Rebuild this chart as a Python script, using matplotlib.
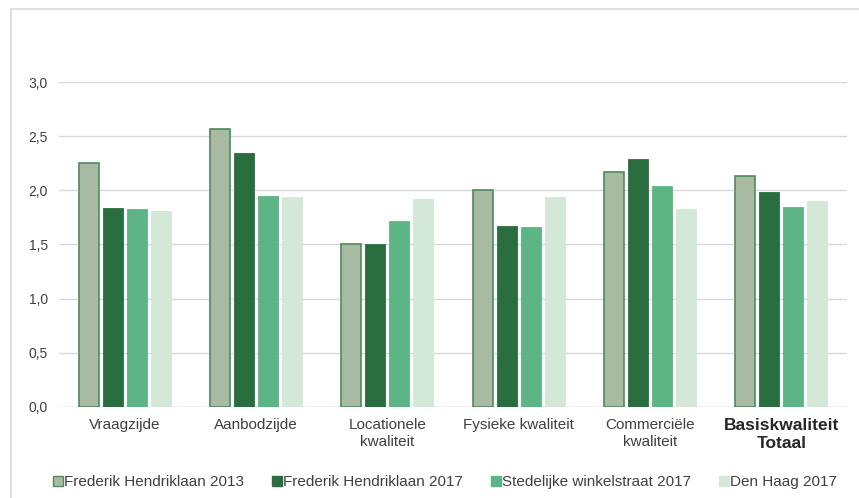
import matplotlib
matplotlib.use("Agg")
import matplotlib.pyplot as plt
import numpy as np
from matplotlib.patches import Rectangle
from matplotlib.lines import Line2D

categories = ["Vraagzijde", "Aanbodzijde", "Locationele\nkwaliteit",
              "Fysieke kwaliteit", "Commerciële\nkwaliteit", "Basiskwaliteit\nTotaal"]
series_names = ["Frederik Hendriklaan 2013", "Frederik Hendriklaan 2017",
                "Stedelijke winkelstraat 2017", "Den Haag 2017"]
fh_2013 = [2.25, 2.57, 1.50, 2.00, 2.17, 2.13]
fh_2017 = [1.84, 2.34, 1.50, 1.67, 2.29, 1.98]
stedelijk_2017 = [1.83, 1.95, 1.72, 1.66, 2.04, 1.85]
den_haag_2017 = [1.81, 1.94, 1.92, 1.94, 1.83, 1.90]
y_ticks = [0.0, 0.5, 1.0, 1.5, 2.0, 2.5, 3.0]

plt.rcParams["font.family"] = ["Liberation Sans", "DejaVu Sans"]

fills = ["#A8BBA2", "#2A6E3F", "#5DB585", "#D4E8D8"]
edges = ["#4E8A5E", "#2A6E3F", "#5DB585", "#D4E8D8"]
text_color = "#404040"

fig = plt.figure(figsize=(8.59, 4.98), dpi=100)
W, H = 859, 498
# light outer frame, open towards the right and bottom edges
fig.patches.append(Rectangle((11 / W, -0.05), 1.0, 1.05 - 9 / H,
                             transform=fig.transFigure, fill=False,
                             edgecolor="#D9D9D9", linewidth=1.2))

ax = fig.add_axes([59 / W, 1 - 407 / H, (847 - 59) / W, (407 - 82) / H])
x = np.arange(len(categories))
step = 0.183
width = 0.152
all_series = [fh_2013, fh_2017, stedelijk_2017, den_haag_2017]
for i, vals in enumerate(all_series):
    offset = (i - 1.5) * step
    ax.bar(x + offset, vals, width=width, color=fills[i], edgecolor=edges[i],
           linewidth=1.2 if i == 0 else 0.6, zorder=3)

ax.set_xlim(-0.5, len(categories) - 0.5)
ax.set_ylim(0, 3.0)
ax.set_yticks(y_ticks)
ax.set_yticklabels([f"{t:.1f}".replace(".", ",") for t in y_ticks],
                   fontsize=10, color=text_color)
ax.yaxis.grid(True, color="#D9D9D9", linewidth=1.0, zorder=0)
ax.set_axisbelow(True)
for s in ax.spines.values():
    s.set_visible(False)
ax.axhline(0, color="#D9D9D9", linewidth=1.0, zorder=1)
ax.tick_params(axis="y", length=0, pad=8)
ax.tick_params(axis="x", length=0, pad=8)
ax.set_xticks(x)
ax.set_xticklabels(categories, fontsize=11, color=text_color, linespacing=1.27)
lbl = ax.get_xticklabels()[-1]
lbl.set_fontweight("bold")
lbl.set_fontsize(12.5)
lbl.set_color("#262626")

handles = [Line2D([], [], marker="s", linestyle="none", markersize=6.5,
                  markerfacecolor=fills[i], markeredgecolor=edges[i],
                  markeredgewidth=1.0) for i in range(4)]
fig.legend(handles, series_names, loc="center", bbox_to_anchor=(0.517, 1 - 482 / H),
           ncol=4, frameon=False, fontsize=11, handletextpad=0.0,
           columnspacing=1.75, handlelength=0.8, labelcolor=text_color)

fig.savefig("out.png", dpi=100, facecolor="white")
